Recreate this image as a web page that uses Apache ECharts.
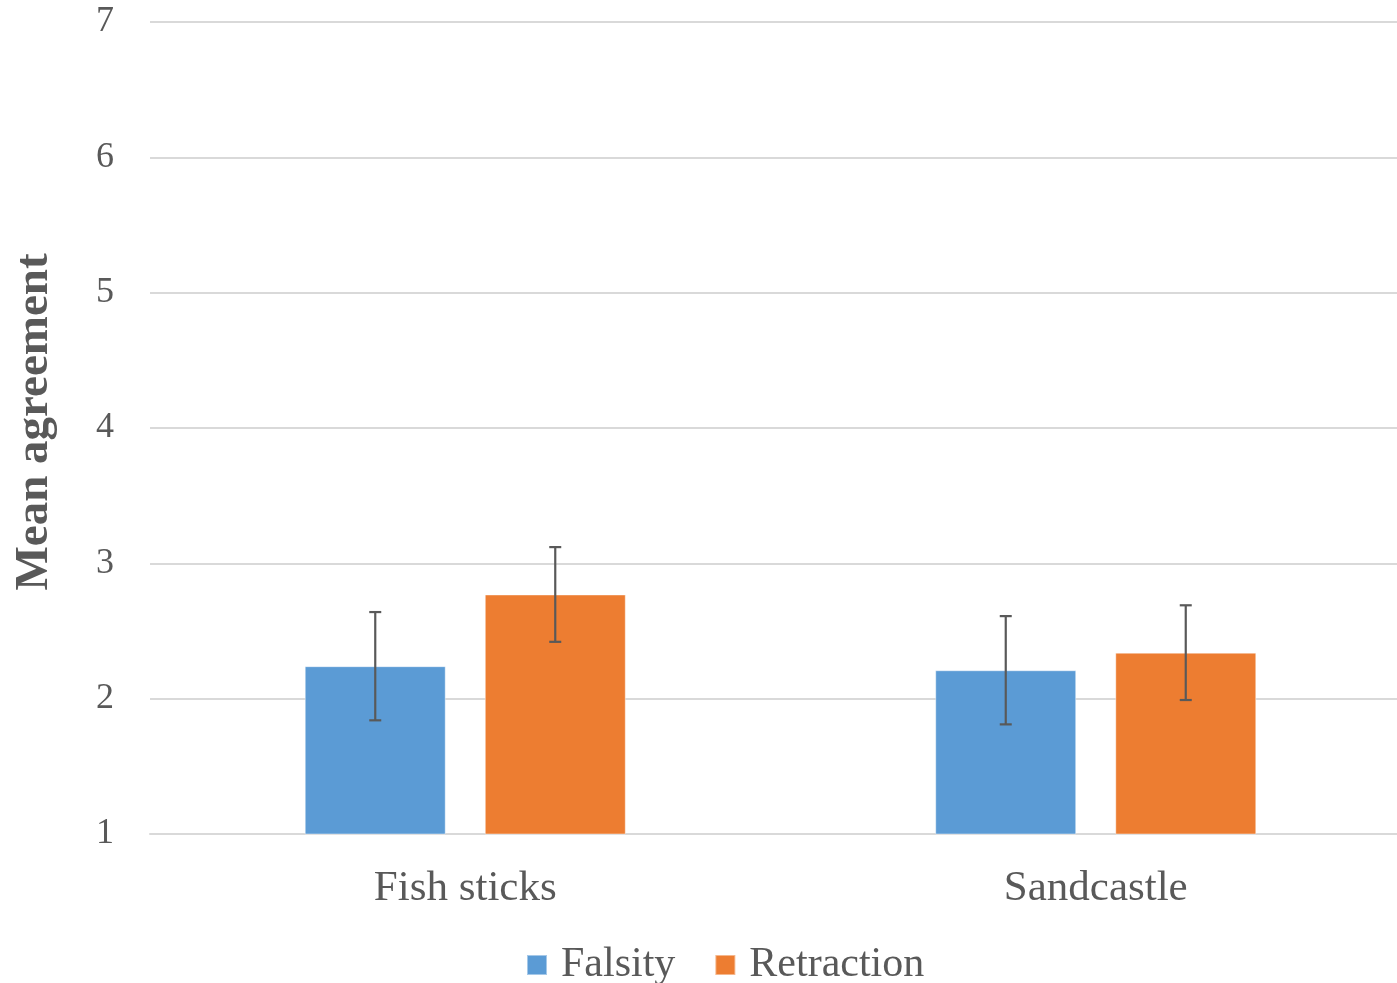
<!DOCTYPE html>
<html>
<head>
<meta charset="utf-8">
<script src="https://cdn.jsdelivr.net/npm/echarts@6/dist/echarts.min.js"></script>
<style>
html,body{margin:0;padding:0;background:#fff;overflow:hidden;}
#chart{width:1411px;height:983px;}
</style>
</head>
<body>
<div id="chart"></div>
<script>
const categories = ['Fish sticks', 'Sandcastle'];
const falsity = [2.24, 2.21];
const falsityErr = [0.40, 0.40];
const retraction = [2.77, 2.34];
const retractionErr = [0.35, 0.35];
const yTicks = [1, 2, 3, 4, 5, 6, 7];

const FONT = '"Liberation Serif", "DejaVu Serif", serif';
const BAR_W = 141, GAP = 39;

function errItem(offset) {
  return function (params, api) {
    const x = api.value(0), m = api.value(1), e = api.value(2);
    const hi = api.coord([x, m + e]);
    const lo = api.coord([x, m - e]);
    const cx = hi[0] + offset;
    const cap = 6;
    const st = { stroke: '#595959', lineWidth: 2.2 };
    return {
      type: 'group',
      children: [
        { type: 'line', shape: { x1: cx, y1: hi[1], x2: cx, y2: lo[1] }, style: st },
        { type: 'line', shape: { x1: cx - cap, y1: hi[1], x2: cx + cap, y2: hi[1] }, style: st },
        { type: 'line', shape: { x1: cx - cap, y1: lo[1], x2: cx + cap, y2: lo[1] }, style: st }
      ]
    };
  };
}

const chart = echarts.init(document.getElementById('chart'));
chart.setOption({
  animation: false,
  backgroundColor: '#fff',
  grid: { left: 150, right: 0, top: 22, bottom: 149, containLabel: false },
  legend: {
    data: ['Falsity', 'Retraction'],
    left: 521, top: 939,
    itemWidth: 20, itemHeight: 20, itemGap: 39,
    icon: 'rect',
    textStyle: { fontFamily: FONT, fontSize: 42, color: '#595959', padding: [0, 0, 0, 9] }
  },
  xAxis: {
    type: 'category',
    data: categories,
    axisLine: { show: true, lineStyle: { color: '#d9d9d9', width: 2 } },
    axisTick: { show: false },
    axisLabel: { fontFamily: FONT, fontSize: 43, color: '#595959', margin: 33 }
  },
  yAxis: {
    type: 'value',
    min: yTicks[0], max: yTicks[yTicks.length - 1], interval: 1,
    name: 'Mean agreement',
    nameLocation: 'middle',
    nameGap: 92,
    nameTextStyle: { fontFamily: FONT, fontSize: 47, fontWeight: 'bold', color: '#595959', padding: [0, 0, 0, 12] },
    axisLine: { show: false },
    axisTick: { show: false },
    splitLine: { lineStyle: { color: '#d9d9d9', width: 2 } },
    axisLabel: { fontFamily: FONT, fontSize: 36, color: '#595959', margin: 36 }
  },
  series: [
    {
      name: 'Falsity', type: 'bar', data: falsity,
      barWidth: BAR_W, barGap: (GAP / BAR_W * 100).toFixed(1) + '%',
      itemStyle: { color: '#5B9BD5', borderColor: 'rgba(255,255,255,0.45)', borderWidth: 1 }
    },
    {
      name: 'Retraction', type: 'bar', data: retraction,
      barWidth: BAR_W,
      itemStyle: { color: '#ED7D31', borderColor: 'rgba(255,255,255,0.45)', borderWidth: 1 }
    },
    {
      type: 'custom', z: 10,
      renderItem: errItem(-(BAR_W + GAP) / 2),
      encode: { x: 0, y: 1 },
      data: categories.map((c, i) => [i, falsity[i], falsityErr[i]])
    },
    {
      type: 'custom', z: 10,
      renderItem: errItem((BAR_W + GAP) / 2),
      encode: { x: 0, y: 1 },
      data: categories.map((c, i) => [i, retraction[i], retractionErr[i]])
    }
  ]
});
</script>
</body>
</html>
